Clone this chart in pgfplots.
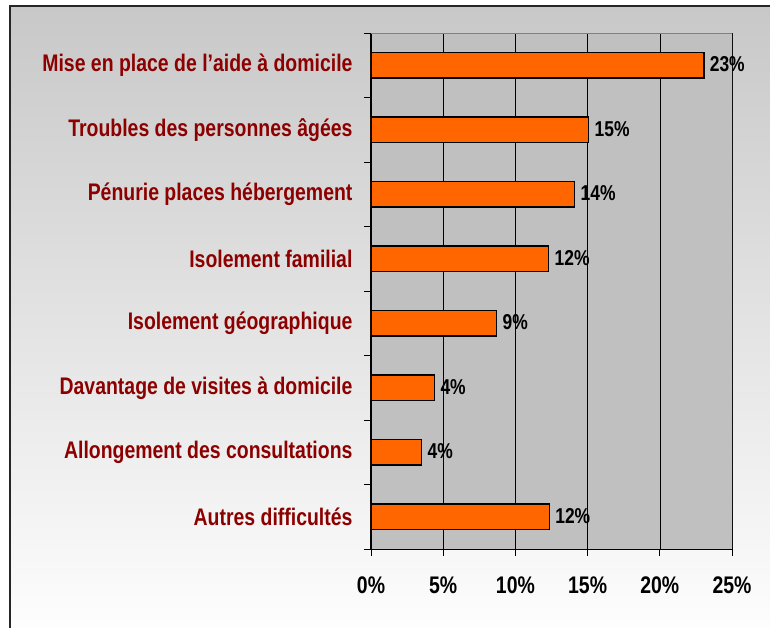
\documentclass[border=0pt]{standalone}
\usepackage{pgfplots}
\pgfplotsset{compat=1.18}
\usepackage{pgfplotstable}
\usepackage{fontspec}
\setmainfont{Liberation Sans}[FakeStretch=0.81]

\definecolor{barorange}{RGB}{255,102,0}
\definecolor{plotgrey}{RGB}{192,192,192}
\definecolor{labelred}{RGB}{140,0,0}
\definecolor{bgtop}{RGB}{200,200,200}

% share of answers, in %; lab is the printed value
\pgfplotstableread{
x     y  lab
23.05 0  23
15.07 1  15
14.10 2  14
12.30 3  12
8.70  4  9
4.40  5  4
3.50  6  4
12.35 7  12
}\difficultes

\begin{document}
\begin{tikzpicture}
\useasboundingbox (-371pt,-79pt) rectangle (399pt,549pt);
\shade[top color=bgtop, bottom color=white] (-361pt,-100pt) rectangle (420pt,543pt);
\draw[line width=1.5pt, black!85] (-361pt,-100pt) -- (-361pt,543pt) -- (420pt,543pt);
\begin{axis}[
    at={(0pt,0pt)}, anchor=south west,
    scale only axis,
    width=361pt, height=516pt,
    xbar, bar width=25.6pt,
    xmin=0, xmax=25,
    ymin=-0.5, ymax=7.5,
    y dir=reverse,
    axis x line*=bottom, axis y line*=left,
    axis line style={-, black, line width=1pt},
    axis background/.style={fill=plotgrey},
    xtick={0,5,...,25},
    xticklabel={\pgfmathprintnumber{\tick}\%},
    xmajorgrids, major grid style={black, line width=0.6pt},
    ytick={0,...,7},
    yticklabels={Mise en place de l'aide à domicile, Troubles des personnes âgées, Pénurie places hébergement, Isolement familial, Isolement géographique, Davantage de visites à domicile, Allongement des consultations, Autres difficultés},
    minor ytick={-0.5,0.5,...,7.5},
    major tick length=7pt,
    minor tick length=7pt,
    tick align=outside,
    major x tick style={black, line width=0.8pt},
    major y tick style={draw=none},
    minor y tick style={black, line width=0.8pt},
    yticklabel style={font=\bfseries\fontsize{24}{28}\selectfont, text=labelred, xshift=-8pt},
    xticklabel style={font=\bfseries\fontsize{24}{28}\selectfont, yshift=-17pt},
    /pgf/number format/assume math mode=true,
    point meta=explicit symbolic,
    nodes near coords={\pgfplotspointmeta\%},
    every node near coord/.append style={font=\bfseries\fontsize{21.5}{25}\selectfont, black, anchor=west, xshift=2pt, yshift=1pt},
  ]
  \addplot[fill=barorange, draw=black, line width=1.4pt] table[x=x, y=y, meta=lab] {\difficultes};
  \draw[gray, line width=1pt] (rel axis cs:0,1) -- (rel axis cs:1,1) -- (rel axis cs:1,0);
\end{axis}
\end{tikzpicture}
\end{document}
